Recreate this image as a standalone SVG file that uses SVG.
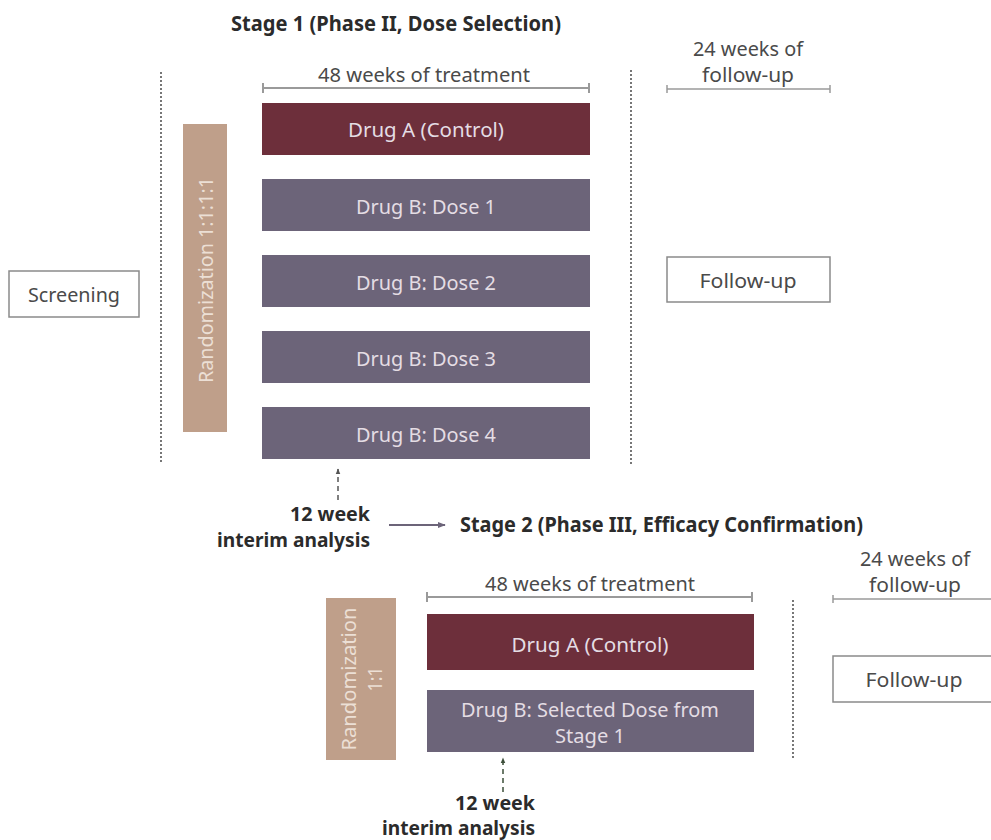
<svg xmlns="http://www.w3.org/2000/svg" width="991" height="840" viewBox="0 0 991 840">
<style>
text{font-family:"Noto Sans","Open Sans","Liberation Sans",sans-serif}
.title{font-size:21px;font-weight:bold;fill:#2b2b2b}
.lbl{font-size:20px;fill:#4a4a4a}
.bold{font-size:19px;font-weight:bold;fill:#2b2b2b}
.box-a{fill:#6d2f3b}
.box-b{fill:#6c6479}
.rand{fill:#bf9f8a}
.in{font-size:20px;fill:#e4dde4}
.rtxt{font-size:19px;fill:#ecdfd5}
.wbox{fill:#fff;stroke:#8a8a8a;stroke-width:1.5}
.wtxt{font-size:20px;fill:#4a4a4a}
.span{stroke:#9a9a9a;stroke-width:2;fill:none}
.dot{stroke:#555;stroke-width:1.6;stroke-dasharray:2 2;fill:none}
.dash{stroke-width:1.5;stroke-dasharray:5 4;fill:none}
</style>
<defs>
<marker id="ahGray" viewBox="0 0 10 10" refX="9" refY="5" markerWidth="6" markerHeight="6" orient="auto" markerUnits="userSpaceOnUse"><path d="M0,1 L10,5 L0,9 z" fill="#555"/></marker>
<marker id="ahGreen" viewBox="0 0 10 10" refX="9" refY="5" markerWidth="6" markerHeight="6" orient="auto" markerUnits="userSpaceOnUse"><path d="M0,1 L10,5 L0,9 z" fill="#3d4f3a"/></marker>
<marker id="ahPurple" viewBox="0 0 10 10" refX="9" refY="5" markerWidth="8" markerHeight="8" orient="auto" markerUnits="userSpaceOnUse"><path d="M0,1 L10,5 L0,9 z" fill="#6c6479"/></marker>
</defs>

<!-- Stage 1 -->
<g id="stage1-title"><text class="title" x="396" y="31" text-anchor="middle" textLength="330" lengthAdjust="spacingAndGlyphs">Stage 1 (Phase II, Dose Selection)</text></g>
<g id="stage1-treatment-span">
<text class="lbl" x="424" y="82" text-anchor="middle" textLength="212" lengthAdjust="spacingAndGlyphs">48 weeks of treatment</text>
<path class="span" d="M263,88 H589 M263,83 V93 M589,83 V93"/>
</g>
<g id="stage1-followup-span">
<text class="lbl" x="748" y="56" text-anchor="middle" textLength="110" lengthAdjust="spacingAndGlyphs">24 weeks of</text>
<text class="lbl" x="748" y="82" text-anchor="middle" textLength="92" lengthAdjust="spacingAndGlyphs">follow-up</text>
<path class="span" style="stroke-width:1.5" d="M667,89 H830 M667,85 V93 M830,85 V93"/>
</g>
<g id="screening">
<rect class="wbox" x="9" y="271" width="130" height="46"/>
<text class="wtxt" x="74" y="302" text-anchor="middle" textLength="92" lengthAdjust="spacingAndGlyphs">Screening</text>
</g>
<g id="randomization1">
<rect class="rand" x="183" y="124" width="44" height="308"/>
<text class="rtxt" transform="translate(213,280) rotate(-90)" x="0" y="0" text-anchor="middle" textLength="206" lengthAdjust="spacingAndGlyphs">Randomization 1:1:1:1</text>
</g>
<g id="s1-drugA">
<rect class="box-a" x="262" y="103" width="328" height="52"/>
<text class="in" x="426" y="137" text-anchor="middle" textLength="156" lengthAdjust="spacingAndGlyphs">Drug A (Control)</text>
</g>
<g id="s1-dose1">
<rect class="box-b" x="262" y="179" width="328" height="52"/>
<text class="in" x="426" y="214" text-anchor="middle" textLength="140" lengthAdjust="spacingAndGlyphs">Drug B: Dose 1</text>
</g>
<g id="s1-dose2">
<rect class="box-b" x="262" y="255" width="328" height="52"/>
<text class="in" x="426" y="290" text-anchor="middle" textLength="140" lengthAdjust="spacingAndGlyphs">Drug B: Dose 2</text>
</g>
<g id="s1-dose3">
<rect class="box-b" x="262" y="331" width="328" height="52"/>
<text class="in" x="426" y="366" text-anchor="middle" textLength="140" lengthAdjust="spacingAndGlyphs">Drug B: Dose 3</text>
</g>
<g id="s1-dose4">
<rect class="box-b" x="262" y="407" width="328" height="52"/>
<text class="in" x="426" y="442" text-anchor="middle" textLength="140" lengthAdjust="spacingAndGlyphs">Drug B: Dose 4</text>
</g>
<g id="s1-followup">
<rect class="wbox" x="667" y="257" width="163" height="45"/>
<text class="wtxt" x="748" y="288" text-anchor="middle" textLength="97" lengthAdjust="spacingAndGlyphs">Follow-up</text>
</g>
<g id="s1-interim">
<text class="bold" x="370" y="521" text-anchor="end" textLength="80" lengthAdjust="spacingAndGlyphs">12 week</text>
<text class="bold" x="370" y="547" text-anchor="end" textLength="153" lengthAdjust="spacingAndGlyphs">interim analysis</text>
</g>

<!-- Stage 2 -->
<g id="stage2-title"><text class="title" x="460" y="532" textLength="403" lengthAdjust="spacingAndGlyphs">Stage 2 (Phase III, Efficacy Confirmation)</text></g>
<g id="stage2-treatment-span">
<text class="lbl" x="590" y="591" text-anchor="middle" textLength="210" lengthAdjust="spacingAndGlyphs">48 weeks of treatment</text>
<path class="span" d="M427,597 H752 M427,592 V602 M752,592 V602"/>
</g>
<g id="stage2-followup-span">
<text class="lbl" x="915" y="566" text-anchor="middle" textLength="110" lengthAdjust="spacingAndGlyphs">24 weeks of</text>
<text class="lbl" x="915" y="592" text-anchor="middle" textLength="92" lengthAdjust="spacingAndGlyphs">follow-up</text>
<path class="span" style="stroke-width:1.5" d="M833,599 H996 M833,595 V603"/>
</g>
<g id="randomization2">
<rect class="rand" x="326" y="598" width="70" height="162"/>
<text class="rtxt" transform="translate(356,679) rotate(-90)" x="0" y="0" text-anchor="middle" textLength="143" lengthAdjust="spacingAndGlyphs">Randomization</text>
<text class="rtxt" transform="translate(382,679) rotate(-90)" x="0" y="0" text-anchor="middle" textLength="25" lengthAdjust="spacingAndGlyphs">1:1</text>
</g>
<g id="s2-drugA">
<rect class="box-a" x="427" y="614" width="327" height="56"/>
<text class="in" x="590" y="652" text-anchor="middle" textLength="157" lengthAdjust="spacingAndGlyphs">Drug A (Control)</text>
</g>
<g id="s2-drugB">
<rect class="box-b" x="427" y="690" width="327" height="62"/>
<text class="in" x="590" y="717" text-anchor="middle" textLength="258" lengthAdjust="spacingAndGlyphs">Drug B: Selected Dose from</text>
<text class="in" x="590" y="743" text-anchor="middle" textLength="70" lengthAdjust="spacingAndGlyphs">Stage 1</text>
</g>
<g id="s2-followup">
<rect class="wbox" x="833" y="656" width="163" height="46"/>
<text class="wtxt" x="914" y="687" text-anchor="middle" textLength="97" lengthAdjust="spacingAndGlyphs">Follow-up</text>
</g>
<g id="s2-interim">
<text class="bold" x="535" y="810" text-anchor="end" textLength="80" lengthAdjust="spacingAndGlyphs">12 week</text>
<text class="bold" x="535" y="835" text-anchor="end" textLength="153" lengthAdjust="spacingAndGlyphs">interim analysis</text>
</g>

<!-- Connectors and separators -->
<g id="connectors">
<line class="dot" x1="161" y1="72" x2="161" y2="463"/>
<line class="dot" x1="631" y1="70" x2="631" y2="466"/>
<line class="dot" x1="793" y1="600" x2="793" y2="758"/>
<line class="dash" stroke="#555" x1="338" y1="500" x2="338" y2="469" marker-end="url(#ahGray)"/>
<line class="dash" stroke="#3d4f3a" x1="503" y1="792" x2="503" y2="758" marker-end="url(#ahGreen)"/>
<line stroke="#6c6479" stroke-width="2" x1="389" y1="525" x2="445" y2="525" marker-end="url(#ahPurple)"/>
</g>
</svg>
